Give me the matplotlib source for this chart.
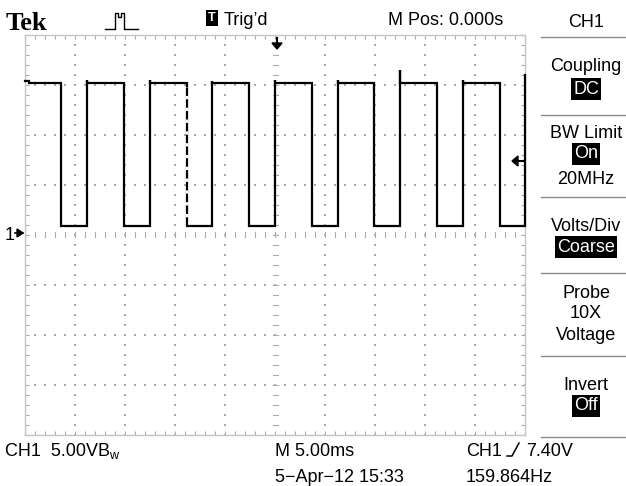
import numpy as np
import matplotlib
matplotlib.use("Agg")
import matplotlib.pyplot as plt
from matplotlib.lines import Line2D
from matplotlib.patches import Polygon

rise_ms = [-25.0, -18.8, -12.55, -6.3, 0.0, 6.25, 12.5, 18.75, 24.95]
fall_ms = [-21.4, -15.1, -8.8, -2.6, 3.7, 9.9, 16.2, 22.5]
peak_v = [15.4, 15.5, 15.5, 15.4, 15.5, 15.5, 16.5, 15.5, 16.0]
high_v = 15.2
low_v = 0.9
dashed_fall = [2]
trig_level_v = 7.4

menu_header = "CH1"
menu_items = [
    ("Coupling", None, 64), ("DC", "box", 89),
    ("BW Limit", None, 131), ("On", "box", 154), ("20MHz", None, 177),
    ("Volts/Div", None, 224), ("Coarse", "box", 247),
    ("Probe", None, 291), ("10X", None, 312), ("Voltage", None, 334),
    ("Invert", None, 384), ("Off", "box", 406),
]
menu_lines_y = [37, 115, 197, 273, 356, 437]

W, H = 626, 486
FONT = ["Liberation Sans", "DejaVu Sans"]
FS = 13


def fx(x):
    return x / W


def fy(y):
    return 1 - y / H


fig = plt.figure(figsize=(W / 100, H / 100), dpi=100)
fig.patch.set_facecolor("white")

# graticule axes: pixel box x 25..525, y 35..435
ax = fig.add_axes([fx(25), fy(435), 500 / W, 400 / H])
ax.set_xlim(-25, 25)
ax.set_ylim(-20, 20)
ax.set_facecolor("white")
gray = "#aaaaaa"
for s in ax.spines.values():
    s.set_color("#c4c4c4")
    s.set_linewidth(1.0)
ax.set_xticks(np.arange(-25, 26, 1))
ax.set_yticks(np.arange(-20, 21, 1))
ax.tick_params(axis="both", direction="in", length=3, width=0.8, color=gray,
               labelbottom=False, labelleft=False, top=True, right=True)

# dotted grid
gx = np.arange(-25, 26, 1)
gy = np.arange(-20, 21, 1)
for xv in [-20, -15, -10, -5, 5, 10, 15, 20]:
    ax.scatter(np.full(gy.shape, xv), gy, s=0.8, marker="s", color=gray,
               linewidths=0, zorder=1)
for yv in [-15, -10, -5, 5, 10, 15]:
    ax.scatter(gx, np.full(gx.shape, yv), s=0.8, marker="s", color=gray,
               linewidths=0, zorder=1)
# center crosshair ticks
for xv in gx:
    ax.plot([xv, xv], [-0.25, 0.25], color=gray, lw=0.8, zorder=1)
for yv in gy:
    ax.plot([-0.25, 0.25], [yv, yv], color=gray, lw=0.8, zorder=1)

# waveform
t = [rise_ms[0], rise_ms[0] + 0.4, rise_ms[0] + 0.4]
v = [peak_v[0], peak_v[0], high_v]
for k, f in enumerate(fall_ms):
    r = rise_ms[k]
    if k > 0:
        t += [r, r, r]
        v += [low_v, peak_v[k], high_v]
    t += [f, f]
    v += [high_v, low_v]
t += [rise_ms[-1], rise_ms[-1]]
v += [low_v, peak_v[-1]]
ax.plot(t, v, color="black", lw=1.6, solid_joinstyle="miter", zorder=3,
        clip_on=False)
for k in dashed_fall:
    f = fall_ms[k]
    ax.plot([f, f], [low_v + 0.4, high_v - 0.4], color="white", lw=1.7,
            linestyle=(3.0, (1.4, 3.6)), zorder=4)

# ---------------- markers ----------------
# trigger position arrow (top)
fig.add_artist(Line2D([fx(277), fx(277)], [fy(38), fy(44)], color="black",
                      lw=1.5, transform=fig.transFigure))
fig.add_artist(Polygon([[fx(272), fy(43)], [fx(282), fy(43)], [fx(277), fy(49)]],
                       closed=True, color="black", transform=fig.transFigure))
# trigger level arrow (right)
ty = fy(235 - trig_level_v * 10)
fig.add_artist(Line2D([fx(517), fx(525)], [ty, ty], color="black", lw=1.5,
                      transform=fig.transFigure))
fig.add_artist(Polygon([[fx(512), ty], [fx(518), ty + 5 / H], [fx(518), ty - 5 / H]],
                       closed=True, color="black", transform=fig.transFigure))
# ground marker
fig.text(fx(5), fy(233) - 6.5 / H, "1", fontsize=FS, family=FONT, ha="left",
         va="baseline")
fig.add_artist(Line2D([fx(15), fx(23)], [fy(233), fy(233)], color="black", lw=1.2,
                      transform=fig.transFigure))
fig.add_artist(Polygon([[fx(23), fy(233)], [fx(17), fy(229)], [fx(17), fy(237)]],
                       closed=True, color="black", transform=fig.transFigure))

# ---------------- header ----------------
fig.text(fx(6), fy(30), "Tek", fontsize=19, family=["Liberation Serif", "DejaVu Serif"],
         fontweight="bold", ha="left", va="baseline")
# acquisition icon
icon_x = [105, 115, 115, 118, 118, 121, 121, 124, 124, 138]
icon_y = [29, 29, 13, 13, 17, 17, 13, 13, 29, 29]
fig.add_artist(Line2D([fx(a) for a in icon_x], [fy(b) for b in icon_y],
                      color="black", lw=1.0, transform=fig.transFigure))
fig.text(fx(208), fy(18), "T", fontsize=9, family=FONT, fontweight="bold",
         color="white", ha="left", va="center",
         bbox=dict(boxstyle="square,pad=0.15", facecolor="black", edgecolor="none"))
fig.text(fx(224), fy(25), "Trig\u2019d", fontsize=FS, family=FONT, ha="left",
         va="baseline")
fig.text(fx(446), fy(25), "M Pos: 0.000s", fontsize=FS, family=FONT, ha="center",
         va="baseline")
fig.text(fx(586), fy(27), menu_header, fontsize=FS, family=FONT, ha="center",
         va="baseline")

# ---------------- side menu ----------------
for ly in menu_lines_y:
    fig.add_artist(Line2D([fx(541), fx(626)], [fy(ly), fy(ly)], color="#8c8c8c",
                          lw=1.0, transform=fig.transFigure))
for label, kind, yc in menu_items:
    if kind == "box":
        fig.text(fx(586), fy(yc), label, fontsize=FS, family=FONT, ha="center",
                 va="center", color="white",
                 bbox=dict(boxstyle="square,pad=0.12", facecolor="black",
                           edgecolor="none"))
    else:
        fig.text(fx(586), fy(yc) - 6.5 / H, label, fontsize=FS, family=FONT,
                 ha="center", va="baseline")

# ---------------- footer ----------------
fig.text(fx(5), fy(456), "CH1  5.00VB", fontsize=FS, family=FONT, ha="left",
         va="baseline")
fig.text(fx(109), fy(459), "w", fontsize=9, family=FONT, ha="left", va="baseline")
fig.text(fx(275), fy(456), "M 5.00ms", fontsize=FS, family=FONT, ha="left",
         va="baseline")
fig.text(fx(466), fy(456), "CH1", fontsize=FS, family=FONT, ha="left",
         va="baseline")
sx = [507, 512, 519]
sy = [456, 456, 443]
fig.add_artist(Line2D([fx(a) for a in sx], [fy(b) for b in sy], color="black",
                      lw=1.1, transform=fig.transFigure))
fig.text(fx(526), fy(456), "7.40V", fontsize=FS, family=FONT, ha="left",
         va="baseline")
fig.text(fx(275), fy(482), "5\u2212Apr\u221212 15:33", fontsize=FS, family=FONT,
         ha="left", va="baseline")
fig.text(fx(466), fy(482), "159.864Hz", fontsize=FS, family=FONT, ha="left",
         va="baseline")

fig.savefig("out.png", dpi=100, facecolor="white")
